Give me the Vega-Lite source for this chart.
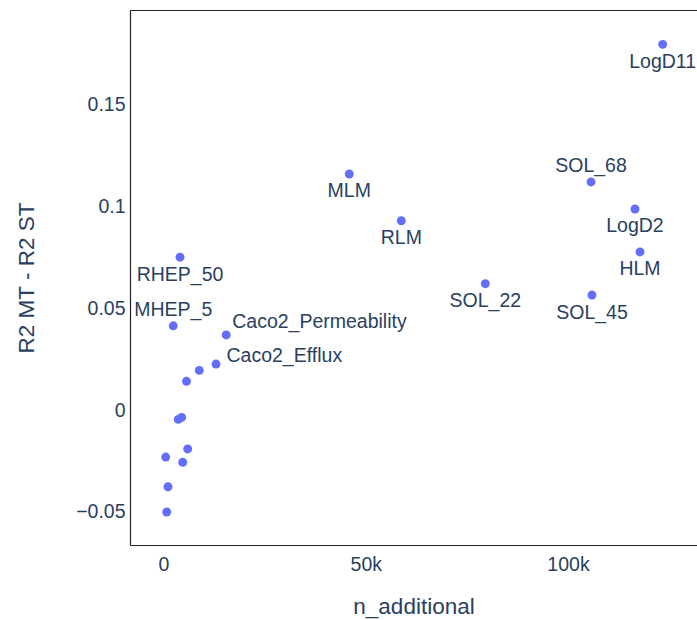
{
  "$schema": "https://vega.github.io/schema/vega-lite/v6.json",
  "width": 567,
  "height": 535,
  "autosize": {"type": "none"},
  "padding": {"left": 130, "top": 10, "right": 0, "bottom": 75},
  "background": "white",
  "data": {
    "values": [
      {"task": "RHEP_50", "n_additional": 4080, "delta_r2": 0.0752},
      {"task": "MHEP_5", "n_additional": 2420, "delta_r2": 0.0415},
      {"task": "Caco2_Permeability", "n_additional": 15500, "delta_r2": 0.0370},
      {"task": "Caco2_Efflux", "n_additional": 12980, "delta_r2": 0.0227},
      {"task": null, "n_additional": 8850, "delta_r2": 0.0196},
      {"task": null, "n_additional": 5690, "delta_r2": 0.0142},
      {"task": null, "n_additional": 4500, "delta_r2": -0.0035},
      {"task": null, "n_additional": 3660, "delta_r2": -0.0045},
      {"task": null, "n_additional": 5980, "delta_r2": -0.0190},
      {"task": null, "n_additional": 540, "delta_r2": -0.0230},
      {"task": null, "n_additional": 4750, "delta_r2": -0.0256},
      {"task": null, "n_additional": 1110, "delta_r2": -0.0376},
      {"task": null, "n_additional": 790, "delta_r2": -0.0500},
      {"task": "MLM", "n_additional": 45930, "delta_r2": 0.1161},
      {"task": "RLM", "n_additional": 58790, "delta_r2": 0.0931},
      {"task": "LogD11", "n_additional": 123410, "delta_r2": 0.1798},
      {"task": "SOL_68", "n_additional": 105690, "delta_r2": 0.1122},
      {"task": "LogD2", "n_additional": 116560, "delta_r2": 0.0989},
      {"task": "HLM", "n_additional": 117800, "delta_r2": 0.0778},
      {"task": "SOL_22", "n_additional": 79560, "delta_r2": 0.0622},
      {"task": "SOL_45", "n_additional": 105930, "delta_r2": 0.0566}
    ]
  },
  "encoding": {
    "y": {
      "field": "delta_r2",
      "type": "quantitative",
      "scale": {"domain": [-0.06622, 0.19668], "nice": false, "zero": false},
      "axis": {
        "title": "R2 MT - R2 ST",
        "values": [-0.05, 0, 0.05, 0.1, 0.15],
        "format": ".2~f",
        "grid": false,
        "ticks": false,
        "tickSize": 0,
        "labelPadding": 5,
        "titlePadding": 37,
        "domain": true
      }
    }
  },
  "layer": [
    {
      "mark": {"type": "circle", "size": 80, "color": "#636efa", "opacity": 1},
      "encoding": {
        "x": {
          "field": "n_additional",
          "type": "quantitative",
          "scale": {"domain": [-8282, 131891], "nice": false, "zero": false},
          "axis": {
            "orient": "bottom",
            "title": "n_additional",
            "values": [0, 50000, 100000],
            "labelExpr": "datum.value == 0 ? '0' : format(datum.value / 1000, 'd') + 'k'",
            "grid": false,
            "ticks": false,
            "tickSize": 0,
            "labelPadding": 10.5,
            "titlePadding": 21.5
          }
        }
      }
    },
    {
      "transform": [{"filter": {"field": "task", "oneOf": ["RHEP_50", "MLM", "RLM", "LogD11", "LogD2", "HLM", "SOL_22", "SOL_45"]}}],
      "mark": {"type": "text", "align": "center", "baseline": "middle", "dy": 17.5},
      "encoding": {
        "x": {
          "field": "n_additional",
          "type": "quantitative",
          "scale": {"domain": [-8282, 131891], "nice": false, "zero": false},
          "axis": {"orient": "top", "labels": false, "ticks": false, "tickSize": 0, "title": null, "grid": false, "domain": true}
        },
        "text": {"field": "task"}
      }
    },
    {
      "transform": [{"filter": {"field": "task", "oneOf": ["MHEP_5", "SOL_68"]}}],
      "mark": {"type": "text", "align": "center", "baseline": "middle", "dy": -16},
      "encoding": {
        "x": {"field": "n_additional", "type": "quantitative", "scale": {"domain": [-8282, 131891], "nice": false, "zero": false}, "axis": null},
        "text": {"field": "task"}
      }
    },
    {
      "transform": [{"filter": {"field": "task", "equal": "Caco2_Permeability"}}],
      "mark": {"type": "text", "align": "left", "baseline": "middle", "dx": 6, "dy": -13},
      "encoding": {
        "x": {"field": "n_additional", "type": "quantitative", "scale": {"domain": [-8282, 131891], "nice": false, "zero": false}, "axis": null},
        "text": {"field": "task"}
      }
    },
    {
      "transform": [{"filter": {"field": "task", "equal": "Caco2_Efflux"}}],
      "mark": {"type": "text", "align": "left", "baseline": "middle", "dx": 10.5, "dy": -8.5},
      "encoding": {
        "x": {"field": "n_additional", "type": "quantitative", "scale": {"domain": [-8282, 131891], "nice": false, "zero": false}, "axis": null},
        "text": {"field": "task"}
      }
    }
  ],
  "resolve": {"axis": {"x": "independent"}},
  "config": {
    "view": {"stroke": null},
    "axis": {
      "domainColor": "#222222",
      "domainWidth": 1.2,
      "labelFont": "Liberation Sans",
      "labelFontSize": 19.5,
      "labelColor": "#2a3f5f",
      "titleFont": "Liberation Sans",
      "titleFontSize": 22.5,
      "titleColor": "#2a3f5f",
      "titleFontWeight": "normal"
    },
    "text": {"font": "Liberation Sans", "fontSize": 19.5, "color": "#2a3f5f"}
  }
}
